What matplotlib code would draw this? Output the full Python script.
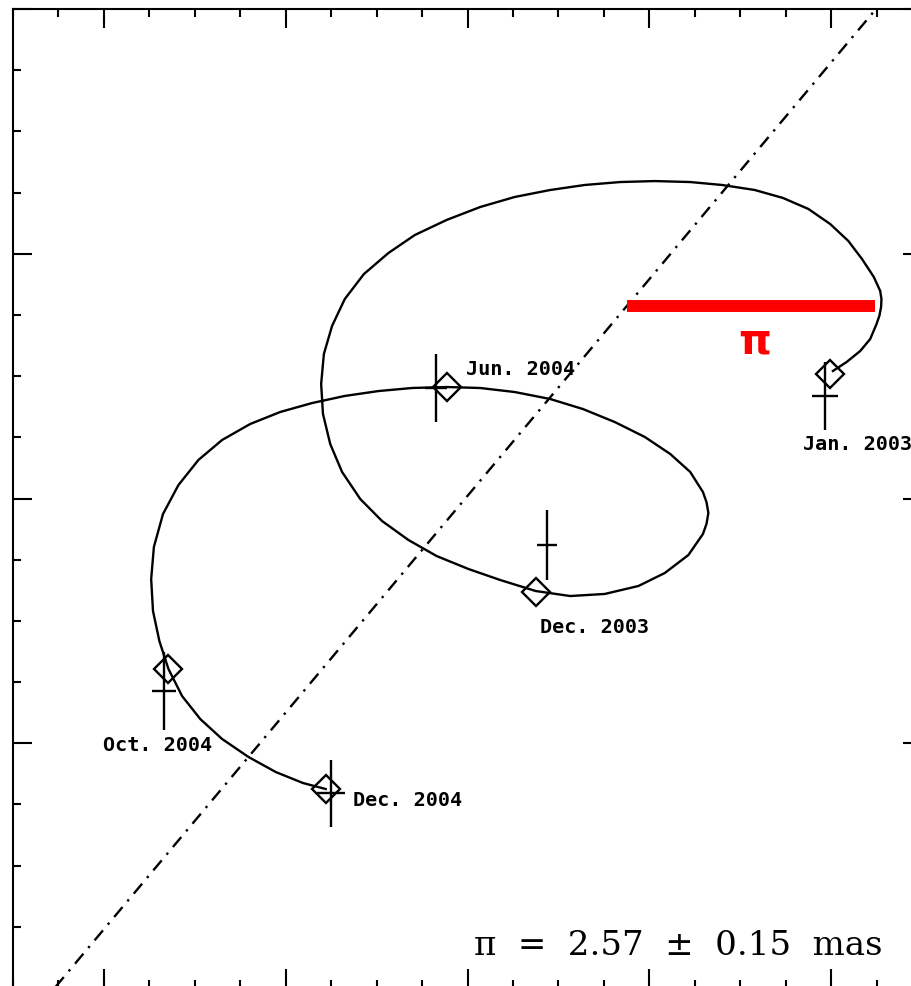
import numpy as np
from matplotlib import pyplot as plt
from matplotlib.ticker import MultipleLocator, NullFormatter

# epochs: model position (diamond) and measured position with errors (cross)
epochs = ['Jan. 2003', 'Dec. 2003', 'Jun. 2004', 'Oct. 2004', 'Dec. 2004']
model_x = [7.99, 4.75, 3.77, 0.71, 2.44]
model_y = [5.02, 3.24, 4.91, 2.61, 1.63]
obs_x = [7.93, 4.875, 3.653, 0.661, 2.498]
obs_y = [4.838, 3.62, 4.903, 2.427, 1.593]
obs_xerr = [0.143, 0.115, 0.12, 0.132, 0.154]
obs_yerr = [0.278, 0.286, 0.278, 0.319, 0.274]

# where each epoch label sits (left edge, vertical centre)
label_x = [7.69, 4.80, 3.98, -0.01, 2.74]
label_y = [4.45, 2.95, 5.06, 1.99, 1.54]

# fitted path on the sky, Jan. 2003 -> Dec. 2004
track_x = [8.02, 8.17, 8.32, 8.43, 8.50, 8.532, 8.55, 8.554, 8.54, 8.47,
           8.34, 8.19, 7.99, 7.75, 7.47, 7.16, 6.80, 6.45, 6.06, 5.68,
           5.29, 4.91, 4.52, 4.14, 3.77, 3.42, 3.13, 2.86, 2.65, 2.51,
           2.42, 2.39, 2.41, 2.49, 2.62, 2.82, 3.06, 3.35, 3.66, 4.01,
           4.36, 4.75, 5.13, 5.51, 5.88, 6.17, 6.43, 6.59, 6.629, 6.65,
           6.629, 6.59, 6.45, 6.23, 5.95, 5.62, 5.27, 4.91, 4.52, 4.14,
           3.77, 3.39, 3.02, 2.65, 2.29, 1.94, 1.61, 1.30, 1.04, 0.82,
           0.65, 0.55, 0.52, 0.54, 0.61, 0.71, 0.86, 1.06, 1.30, 1.59,
           1.89, 2.19, 2.44]
track_y = [5.042, 5.115, 5.205, 5.303, 5.426, 5.495, 5.565, 5.630, 5.696, 5.810,
           5.957, 6.104, 6.243, 6.366, 6.456, 6.521, 6.562, 6.586, 6.594, 6.586,
           6.562, 6.521, 6.464, 6.382, 6.276, 6.153, 6.006, 5.834, 5.630, 5.410,
           5.181, 4.936, 4.691, 4.445, 4.217, 3.996, 3.816, 3.661, 3.530, 3.424,
           3.334, 3.244, 3.203, 3.220, 3.285, 3.391, 3.538, 3.710, 3.792, 3.882,
           3.971, 4.053, 4.217, 4.364, 4.503, 4.625, 4.731, 4.813, 4.870, 4.903,
           4.911, 4.903, 4.878, 4.838, 4.780, 4.707, 4.609, 4.478, 4.315, 4.110,
           3.873, 3.604, 3.342, 3.081, 2.836, 2.607, 2.386, 2.198, 2.035, 1.888,
           1.765, 1.675, 1.626]

# proper motion direction (two points on the line)
pm_line = [(-0.505, 0.033), (8.494, 8.0)]

# parallax bar drawn on the top loop
pi_bar_x = [5.755, 8.483]
pi_bar_y = 5.573
parallax_text = '\u03c0  =  2.57  \u00b1  0.15  mas'

fig = plt.figure(figsize=(9.12, 9.87), dpi=100)
ax = fig.add_axes([13/912, -2/987, 909/912, 979/987])

ax.plot(track_x, track_y, color='black', lw=1.7, zorder=3,
        solid_joinstyle='round')
ax.axline(pm_line[0], pm_line[1], color='black', lw=1.7,
        dashes=(5.5, 3.2, 1.0, 3.2), zorder=2)

ax.plot(model_x, model_y, linestyle='none', marker='D', ms=14.5, mfc='none',
        mec='black', mew=1.7, zorder=4)
ax.errorbar(obs_x, obs_y, xerr=obs_xerr, yerr=obs_yerr, fmt='none',
            ecolor='black', elinewidth=1.7, capsize=0, zorder=4)

for name, lx, ly in zip(epochs, label_x, label_y):
    ax.text(lx, ly, name, ha='left', va='center', fontsize=14.5,
            fontweight='bold', family='DejaVu Sans Mono', zorder=5)

ax.plot(pi_bar_x, [pi_bar_y, pi_bar_y], color='#ff0000', lw=8.6,
        solid_capstyle='butt', zorder=6)
ax.text(7.163, 5.295, '\u03c0', color='#ff0000', ha='center',
        va='center', fontsize=30, fontweight='bold', zorder=6)

ax.text(8.56, 0.278, parallax_text, ha='right', va='baseline',
        fontsize=24.5, family='DejaVu Serif', zorder=5)

# axes: ticks on all four sides pointing in, no labels
ax.set_xlim(-1, 9)
ax.set_ylim(0, 8)
ax.xaxis.set_major_locator(MultipleLocator(2))
ax.xaxis.set_minor_locator(MultipleLocator(0.5))
ax.yaxis.set_major_locator(MultipleLocator(2))
ax.yaxis.set_minor_locator(MultipleLocator(0.5))
ax.xaxis.set_major_formatter(NullFormatter())
ax.yaxis.set_major_formatter(NullFormatter())
ax.tick_params(which='both', direction='in', top=True, right=True,
               labelbottom=False, labelleft=False, width=1.5)
ax.tick_params(which='major', length=13.5)
ax.tick_params(which='minor', length=6)
for spine in ax.spines.values():
    spine.set_linewidth(1.5)

plt.savefig('out.png', dpi=100)
